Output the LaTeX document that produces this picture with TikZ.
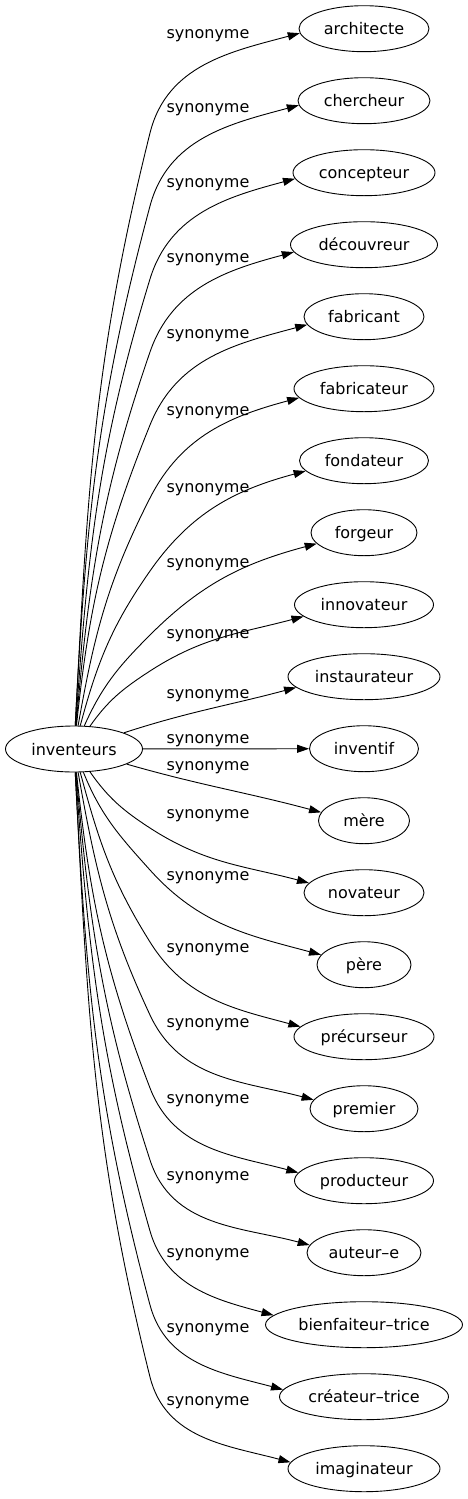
\documentclass[tikz,border=0pt]{standalone}
\usepackage{fontspec}
\setmainfont{DejaVu Sans}
\usetikzlibrary{shapes.geometric}
\usetikzlibrary{arrows.meta}

\begin{document}
\begin{tikzpicture}[x=1pt,y=1pt,
        word/.style={ellipse,draw,line width=0.9pt,inner sep=0pt,minimum height=46pt,
                     text height=14pt,text depth=2pt,font=\fontsize{16}{19}\selectfont},
        syn/.style={anchor=base,inner sep=0pt,font=\fontsize{16}{19}\selectfont},
        link/.style={line width=0.9pt,-{Triangle[length=12pt,width=8pt]}}]
        % frame
        \fill[white] (0,0) rectangle (467,-1499);
        \useasboundingbox (0,0) rectangle (467,-1499);

        % source word
        \node[word,minimum width=137pt] (inv) at (74,-749) {inventeurs};

        % synonyms, one per row
        \foreach \name/\txt/\w [count=\i from 0] in {architecte/architecte/130,
                chercheur/chercheur/132, concepteur/concepteur/142,
                decouvreur/découvreur/147, fabricant/fabricant/120,
                fabricateur/fabricateur/140, fondateur/fondateur/129,
                forgeur/forgeur/106, innovateur/innovateur/139,
                instaurateur/instaurateur/152, inventif/inventif/109,
                mere/mère/91, novateur/novateur/120, pere/père/94,
                precurseur/précurseur/140, premier/premier/108,
                producteur/producteur/139, auteur/auteur–e/114,
                bienfaiteur/bienfaiteur–trice/197, createur/créateur–trice/169,
                imaginateur/imaginateur/152}
            \node[word,minimum width=\w pt] (\name) at (364,{-28.7-72*\i}) {\txt};

        % edges going up
        \foreach \name/\a/\b/\my/\ang in {architecte/87/76/133/184,
                chercheur/87/75/206/184, concepteur/86/73/279/185,
                decouvreur/85/71/352/186, fabricant/84/68/425/188,
                fabricateur/80/63/498/188, fondateur/75/55/571/190,
                forgeur/66/45/635/193, innovateur/55/33/671/191}
        {
            \pgfmathtruncatemacro\back{\b+180}
            \draw[link] (inv) to[out=\a,in=\back] (150,-\my) to[out=\b,in=195] (\name.\ang);
        }

        % edges in the middle
        \draw[link] (inv) to[out=18,in=195] (instaurateur.189);
        \draw[link] (inv) -- (inventif);
        \draw[link] (inv) to[out=-16,in=165] (mere.169);

        % edges going down
        \foreach \name/\a/\b/\my/\ang in {novateur/-55/-33/828/170,
                pere/-68/-48/870/167, precurseur/-75/-58/942/171,
                premier/-80/-65/1015/170, producteur/-84/-69/1088/173,
                auteur/-85/-72/1160/172, bienfaiteur/-86/-74/1231/174,
                createur/-87/-75/1305/175, imaginateur/-87/-76/1377/175}
        {
            \pgfmathtruncatemacro\back{\b+180}
            \draw[link] (inv) to[out=\a,in=\back] (150,-\my) to[out=\b,in=165] (\name.\ang);
        }

        % edge labels
        \foreach \y [count=\i] in {38,112,187,262,338,415,492,567,638,698,743,
                770,818,880,952,1027,1103,1180,1257,1332,1405}
            \node[syn] (lab\i) at (208,-\y) {synonyme};
\end{tikzpicture}
\end{document}
